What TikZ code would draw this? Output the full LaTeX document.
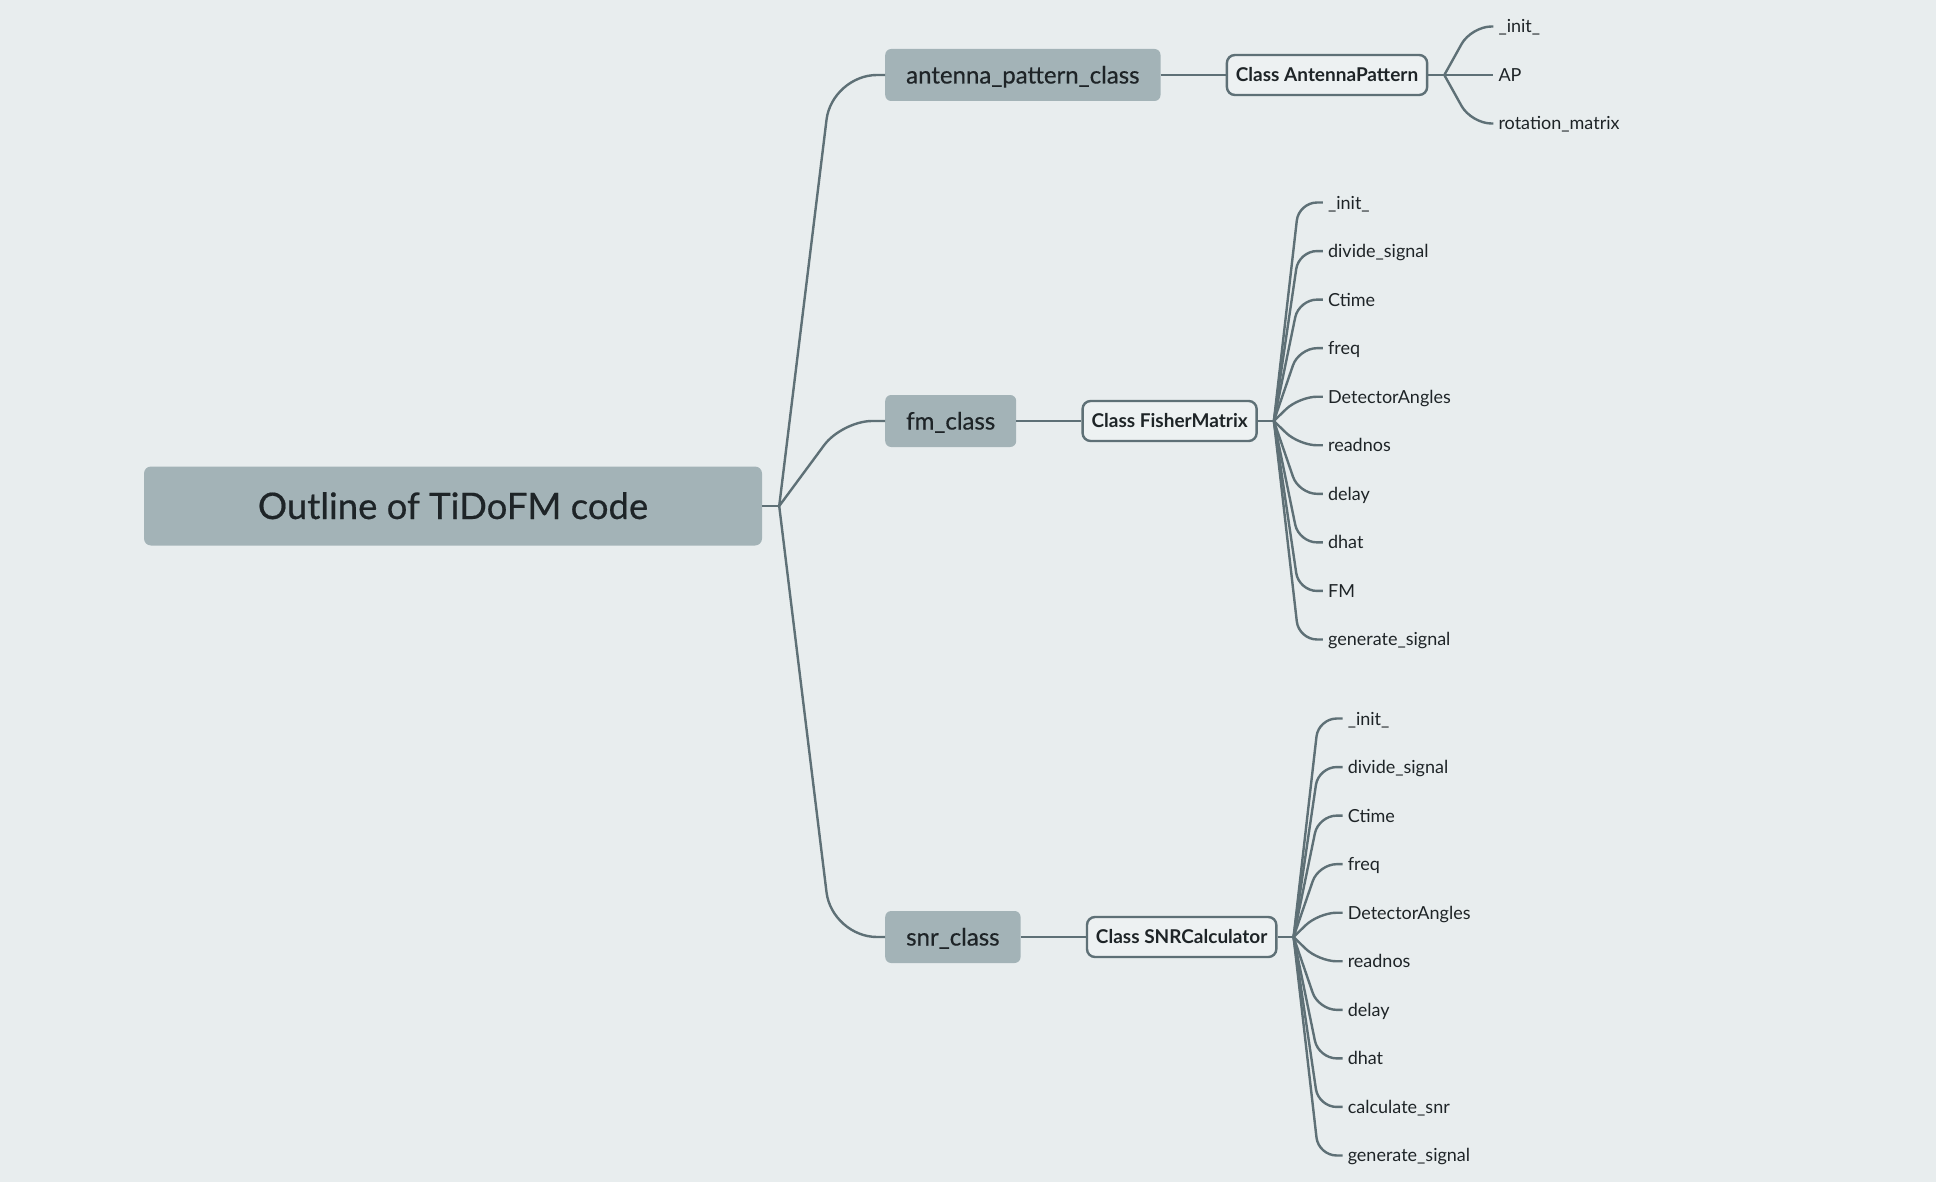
\documentclass[tikz,border=0pt]{standalone}
\usepackage{fontspec}
\setmainfont{Lato}
\newfontfamily\medfont{Lato}[FakeBold=0.5]
\usetikzlibrary{calc}
\definecolor{bgc}{HTML}{E8EDEE}
\definecolor{boxc}{HTML}{A3B3B7}
\definecolor{linec}{HTML}{5E7076}
\definecolor{txtc}{HTML}{1E2427}
\definecolor{clsfill}{HTML}{EDF1F2}
\begin{document}
\begin{tikzpicture}[x=1pt,y=-1pt,
 conn/.style={draw=linec, line width=2.4pt},
 rootbox/.style={fill=boxc, rounded corners=7pt, minimum width=618pt, minimum height=79pt,
   font=\medfont\fontsize{36.5}{42}\selectfont, text=txtc, text height=26pt, text depth=0pt},
 childbox/.style={fill=boxc, rounded corners=6pt, minimum height=52pt, inner xsep=21pt,
   font=\medfont\fontsize{24}{28}\selectfont, text=txtc, text height=17pt, text depth=0pt, anchor=west},
 clsbox/.style={draw=linec, line width=2.4pt, fill=clsfill, rounded corners=8pt, minimum height=40pt,
   inner xsep=9pt, font=\bfseries\fontsize{19}{22}\selectfont, text=txtc, text height=13.5pt,
   text depth=0pt, anchor=west},
 leaf/.style={anchor=west, inner xsep=5pt, inner ysep=0pt, font=\fontsize{18}{21}\selectfont,
   text=txtc, text height=13pt, text depth=0pt},
]
\fill[bgc] (0,0) rectangle (1936,1182);
\useasboundingbox (0,0) rectangle (1936,1182);

% root
\node[rootbox] (root) at (453,506) {Outline of TiDoFM code};
\coordinate (rj) at ($(root.east)+(17,0)$);

% children
\node[childbox] (c1) at (885,75) {antenna\_pattern\_class};
\node[childbox] (c2) at (885,421) {fm\_class};
\node[childbox] (c3) at (885,937) {snr\_class};

\coordinate (rk) at (832,506);
\coordinate (rk2) at (842,506);
\draw[conn] (root.east) -- (rj);
\draw[conn, rounded corners=45pt] (rj) -- (rk |- c1.west) -- (c1.west);
\draw[conn, rounded corners=30pt] (rj) -- (rk2 |- c2.west) -- (c2.west);
\draw[conn, rounded corners=45pt] (rj) -- (rk |- c3.west) -- (c3.west);

% class boxes
\node[clsbox] (k1) at ($(c1.east)+(65,0)$) {Class AntennaPattern};
\node[clsbox] (k2) at ($(c2.east)+(65,0)$) {Class FisherMatrix};
\node[clsbox] (k3) at ($(c3.east)+(65,0)$) {Class SNRCalculator};
\draw[conn] (c1.east) -- (k1.west);
\draw[conn] (c2.east) -- (k2.west);
\draw[conn] (c3.east) -- (k3.west);

% junctions
\coordinate (aj) at ($(k1.east)+(16,0)$);
\coordinate (fj) at ($(k2.east)+(16,0)$);
\coordinate (sj) at ($(k3.east)+(16,0)$);
\coordinate (ak) at ($(aj)+(27,0)$);
\coordinate (fk) at ($(fj)+(25,0)$);
\coordinate (sk) at ($(sj)+(25,0)$);
\draw[conn] (k1.east) -- (aj);
\draw[conn] (k2.east) -- (fj);
\draw[conn] (k3.east) -- (sj);

% antenna leaves
\foreach \t [count=\i] in {\_init\_,AP,rotation\_matrix}{
  \node[leaf] (a\i) at ($(aj)+(49,{48.5*(\i-2)})$) {\t};
  \draw[conn, rounded corners=20pt] (aj) -- (ak |- a\i.west) -- (a\i.west);
}

% fisher leaves
\foreach \t [count=\i] in {\_init\_,divide\_signal,Ctime,freq,DetectorAngles,readnos,delay,dhat,FM,generate\_signal}{
  \node[leaf] (f\i) at ($(fj)+(49,{48.55*(\i-5.5)})$) {\t};
  \draw[conn, rounded corners=18pt] (fj) -- (fk |- f\i.west) -- (f\i.west);
}

% snr leaves
\foreach \t [count=\i] in {\_init\_,divide\_signal,Ctime,freq,DetectorAngles,readnos,delay,dhat,calculate\_snr,generate\_signal}{
  \node[leaf] (s\i) at ($(sj)+(49,{48.55*(\i-5.5)})$) {\t};
  \draw[conn, rounded corners=18pt] (sj) -- (sk |- s\i.west) -- (s\i.west);
}
\end{tikzpicture}
\end{document}
